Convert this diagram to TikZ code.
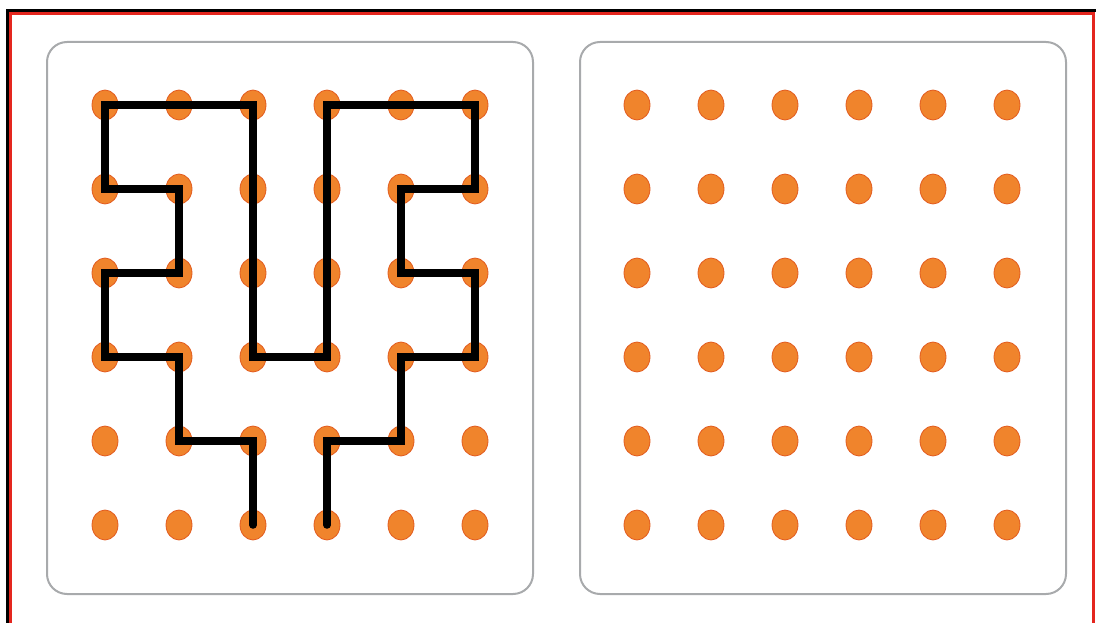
\documentclass[tikz,border=0pt]{standalone}
\usepackage{xcolor}
\usepackage{tikz}
\usetikzlibrary{positioning, calc, shapes.geometric}

\definecolor{dotorange}{RGB}{240,132,44}
\definecolor{dotedge}{RGB}{226,92,32}
\definecolor{panelgrey}{RGB}{168,170,172}
\definecolor{framered}{RGB}{228,38,30}

\tikzset{
  pegdot/.style={ellipse, minimum width=26pt, minimum height=30pt, inner sep=0pt,
    fill=dotorange, draw=dotedge, line width=0.8pt},
  panelbox/.style={draw=panelgrey, line width=2pt, rounded corners=20pt},
  route/.style={line width=7.5pt, line join=miter, line cap=round}
}

\begin{document}
\begin{tikzpicture}[x=1pt, y=-1pt]
        \useasboundingbox (0,0) rectangle (1096,623);
        % Outer frame
        \draw[line width=3pt, black] (7.5,640) -- (7.5,10.5) -- (1096,10.5);
        \draw[line width=3pt, framered] (10.5,640) -- (10.5,13.5) -- (1093,13.5) -- (1093,640);

        % Panels
        \draw[panelbox] (47,42) rectangle (533,594);
        \draw[panelbox] (580,42) rectangle (1066,594);

        % Dot grids
        \foreach \i in {0,...,5} {
          \foreach \j in {0,...,5} {
            \node[pegdot] (L-\i-\j) at (105+\i*74,105+\j*84) {};
            \node[pegdot] (R-\i-\j) at (637+\i*74,105+\j*84) {};
          }
        }

        % Path through the left grid
        \draw[route] (L-2-5.center) -- (L-2-4.center) -- (L-1-4.center) -- (L-1-3.center)
          -- (L-0-3.center) -- (L-0-2.center) -- (L-1-2.center) -- (L-1-1.center)
          -- (L-0-1.center) -- (L-0-0.center) -- (L-2-0.center) -- (L-2-3.center)
          -- (L-3-3.center) -- (L-3-0.center) -- (L-5-0.center) -- (L-5-1.center)
          -- (L-4-1.center) -- (L-4-2.center) -- (L-5-2.center) -- (L-5-3.center)
          -- (L-4-3.center) -- (L-4-4.center) -- (L-3-4.center) -- (L-3-5.center);
      \end{tikzpicture}
\end{document}
